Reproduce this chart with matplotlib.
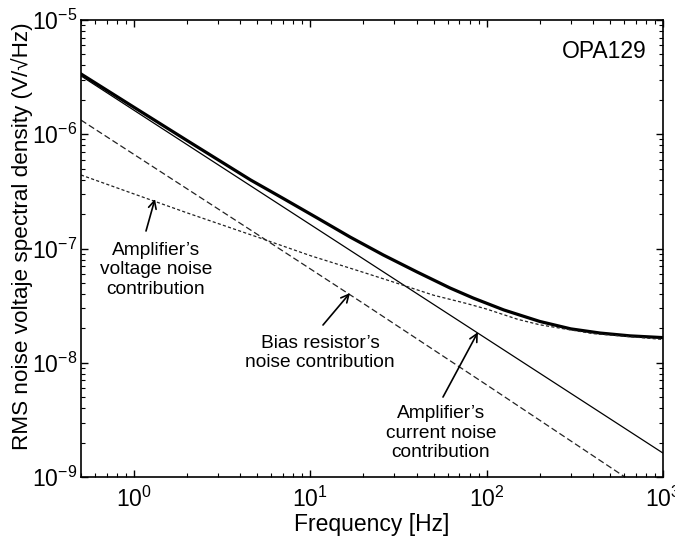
import matplotlib
matplotlib.use("Agg")
import matplotlib.pyplot as plt
from matplotlib.ticker import LogLocator, NullFormatter

plt.rcParams['font.family'] = ['Liberation Sans', 'DejaVu Sans']
plt.rcParams['mathtext.fontset'] = 'custom'
plt.rcParams['mathtext.rm'] = 'Liberation Sans'
plt.rcParams['mathtext.it'] = 'Liberation Sans:italic'
plt.rcParams['mathtext.bf'] = 'Liberation Sans:bold'

# ---- data ----
f_total = [0.5, 1, 2, 4.58, 7.02, 10.94, 16.8, 25.9, 40.3, 62, 83.7, 125,
           200, 300, 440, 650, 1000]
v_total = [3.37e-6, 1.72e-6, 8.8e-7, 3.98e-7, 2.74e-7, 1.85e-7, 1.26e-7,
           8.78e-8, 6.23e-8, 4.51e-8, 3.69e-8, 2.9e-8, 2.3e-8, 1.98e-8,
           1.82e-8, 1.72e-8, 1.66e-8]

f_current = [0.5, 1000]
v_current = [3.24e-6, 1.62e-9]

f_bias = [0.5, 5, 20, 100, 1000]
v_bias = [1.33e-6, 1.33e-7, 3.3e-8, 6.4e-9, 6.0e-10]

f_volt = [0.5, 1, 2, 5, 10, 20, 30, 50, 77, 100, 150, 200, 400, 1000]
v_volt = [4.4e-7, 3.0e-7, 2.05e-7, 1.26e-7, 8.66e-8, 6.18e-8, 5.05e-8,
          3.9e-8, 3.3e-8, 2.95e-8, 2.4e-8, 2.15e-8, 1.8e-8, 1.6e-8]

xlabel = "Frequency [Hz]"
ylabel = "RMS noise voltaje spectral density (V/\u221aHz)"
device = "OPA129"
lbl_volt = "Amplifier\u2019s\nvoltage noise\ncontribution"
lbl_bias = "Bias resistor\u2019s\nnoise contribution"
lbl_curr = "Amplifier\u2019s\ncurrent noise\ncontribution"

fig = plt.figure(figsize=(6.75, 5.43), dpi=100)
ax = fig.add_axes([0.12, 0.1215, 0.8622, 0.8417])

ax.plot(f_total, v_total, color='black', lw=2.3, solid_joinstyle='round')
ax.plot(f_current, v_current, color='black', lw=0.9)
ax.plot(f_bias, v_bias, color='#222222', lw=0.9, dashes=(5, 2.5))
ax.plot(f_volt, v_volt, color='#222222', lw=0.9, dashes=(2.5, 1.8))

ax.set_xscale('log')
ax.set_yscale('log')
ax.set_xlim(0.5, 1000)
ax.set_ylim(1e-9, 1e-5)

ax.xaxis.set_major_locator(LogLocator(base=10, numticks=10))
ax.yaxis.set_major_locator(LogLocator(base=10, numticks=10))
ax.xaxis.set_minor_locator(LogLocator(base=10, subs=range(2, 10), numticks=20))
ax.yaxis.set_minor_locator(LogLocator(base=10, subs=range(2, 10), numticks=20))
ax.xaxis.set_minor_formatter(NullFormatter())
ax.yaxis.set_minor_formatter(NullFormatter())

ax.tick_params(which='both', direction='in', top=True, right=True, labelsize=16.5)
ax.tick_params(which='major', length=5, width=1)
ax.tick_params(which='minor', length=3, width=0.8)
ax.tick_params(axis='x', which='major', pad=7)
ax.tick_params(axis='y', which='major', pad=3)
for s in ax.spines.values():
    s.set_linewidth(1.2)

ax.set_xlabel(xlabel, fontsize=16.5, labelpad=1)
ax.set_ylabel(ylabel, fontsize=16.2)
ax.yaxis.set_label_coords(-0.082, 0.527)

ax.text(0.9725, 0.932, device, transform=ax.transAxes, ha='right', va='center', fontsize=16.5)

tkw = dict(transform=ax.transAxes, ha='center', va='center', fontsize=13.8, linespacing=1.2)
ax.text(0.1289, 0.453, lbl_volt, **tkw)
ax.text(0.4107, 0.2713, lbl_bias, **tkw)
ax.text(0.6186, 0.0963, lbl_curr, **tkw)

akw = dict(arrowstyle='->', lw=1.2, color='black', mutation_scale=14, shrinkA=0, shrinkB=0)
ax.annotate('', xy=(0.1271, 0.6083), xytext=(0.1117, 0.5383), xycoords='axes fraction', arrowprops=akw)
ax.annotate('', xy=(0.4622, 0.4026), xytext=(0.4158, 0.3326), xycoords='axes fraction', arrowprops=akw)
ax.annotate('', xy=(0.682, 0.317), xytext=(0.622, 0.175), xycoords='axes fraction', arrowprops=akw)

fig.savefig('out.png', dpi=100)
